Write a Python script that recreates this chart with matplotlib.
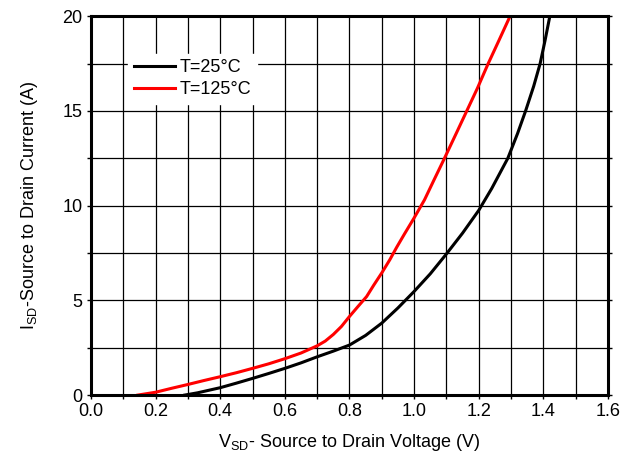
import matplotlib
matplotlib.use('Agg')
import matplotlib.pyplot as plt
from matplotlib.ticker import MultipleLocator

plt.rcParams['font.family'] = ['Liberation Sans', 'DejaVu Sans']

# T=25C curve
v_25 = [0.29, 0.33, 0.40, 0.45, 0.50, 0.55, 0.60, 0.65, 0.70, 0.75, 0.80, 0.85, 0.90, 0.95,
        1.00, 1.05, 1.10, 1.15, 1.20, 1.24, 1.29, 1.32, 1.345, 1.37, 1.39, 1.405, 1.42]
i_25 = [0.0, 0.12, 0.39, 0.63, 0.88, 1.14, 1.41, 1.70, 2.02, 2.32, 2.64, 3.15, 3.80, 4.60,
        5.47, 6.40, 7.45, 8.55, 9.75, 10.9, 12.5, 13.8, 15.0, 16.3, 17.5, 18.7, 20.0]

# T=125C curve
v_125 = [0.145, 0.20, 0.25, 0.30, 0.35, 0.40, 0.45, 0.50, 0.55, 0.60, 0.65, 0.70, 0.725, 0.75,
         0.775, 0.80, 0.825, 0.853, 0.875, 0.90, 0.925, 0.946, 0.97, 1.00, 1.032, 1.06, 1.094,
         1.13, 1.163, 1.196, 1.228, 1.262, 1.297]
i_125 = [0.0, 0.15, 0.36, 0.56, 0.77, 0.97, 1.18, 1.41, 1.65, 1.92, 2.22, 2.60, 2.85, 3.20,
         3.62, 4.15, 4.65, 5.20, 5.80, 6.45, 7.15, 7.80, 8.50, 9.35, 10.3, 11.3, 12.5,
         13.8, 15.0, 16.2, 17.45, 18.7, 20.0]

labels = ['T=25°C', 'T=125°C']

fig = plt.figure(figsize=(6.34, 4.61), dpi=100)
ax = fig.add_axes([0.1435, 0.143, 0.8155, 0.822])

ax.plot(v_25, i_25, color='black', lw=2.2, label=labels[0])
ax.plot(v_125, i_125, color='#ff0000', lw=2.2, label=labels[1])

ax.set_xlim(0, 1.6)
ax.set_ylim(0, 20)
ax.xaxis.set_major_locator(MultipleLocator(0.2))
ax.xaxis.set_minor_locator(MultipleLocator(0.1))
ax.yaxis.set_major_locator(MultipleLocator(5))
ax.yaxis.set_minor_locator(MultipleLocator(2.5))
ax.xaxis.set_major_formatter(plt.FuncFormatter(lambda x, p: f'{x:.1f}'))

ax.grid(True, which='both', color='black', lw=0.9)
ax.set_axisbelow(True)
for s in ax.spines.values():
    s.set_linewidth(2.2)
ax.tick_params(which='both', direction='out', length=3, width=1, labelsize=13,
               right=True, top=False, pad=3)

ax.set_xlabel(r'V$_{\mathregular{SD}}$- Source to Drain Voltage (V)', fontsize=13, labelpad=8)
ax.set_ylabel(r'I$_{\mathregular{SD}}$-Source to Drain Current (A)', fontsize=13, labelpad=16)

leg = ax.legend(loc='upper left', bbox_to_anchor=(0.055, 0.925), fontsize=13, frameon=True,
                fancybox=False, edgecolor='white', framealpha=1, handlelength=2.3,
                handletextpad=0.25, borderpad=0.3, labelspacing=0.3)

fig.savefig('out.png', dpi=100)
